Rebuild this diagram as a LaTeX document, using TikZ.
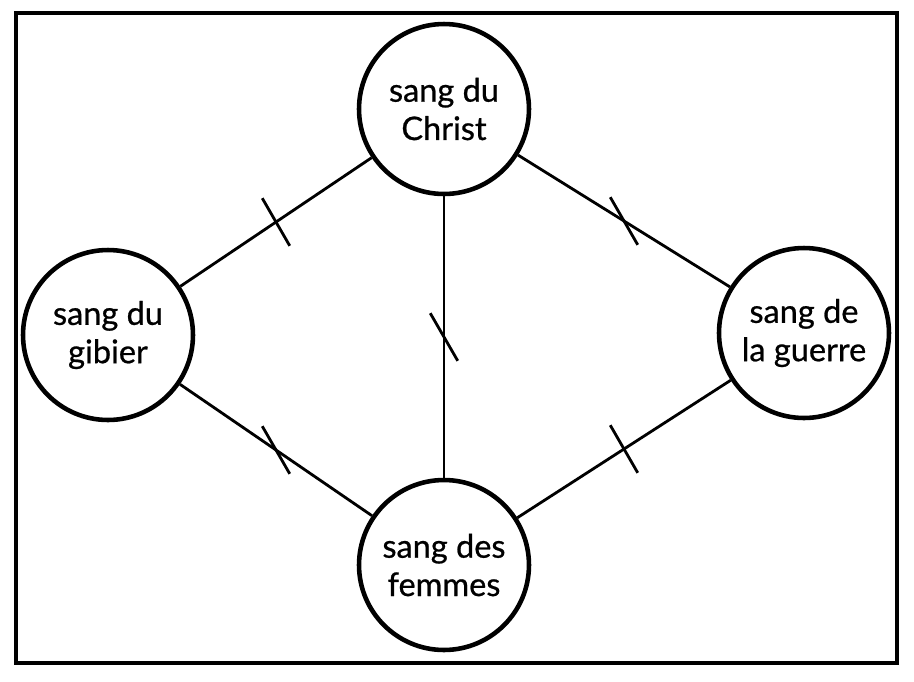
\documentclass[tikz,border=0pt]{standalone}
\usepackage{fontspec}
\setmainfont{Lato}[FakeBold=0.7]
\usepackage{tikz}
\usetikzlibrary{positioning}
\tikzset{
  blood/.style={
    draw,
    circle,
    line width=2.6pt,
    fill=white,
    align=center,
    inner sep=0pt,
    minimum size=3.4cm,
    font=\fontsize{18.5}{21.8}\selectfont
  },
  link/.style={line width=1.6pt},
  tickmark/.style={draw, line width=1.6pt, inner sep=0pt,
    minimum width=0pt, minimum height=1.1cm, rotate=30},
  frame/.style={line width=1.8pt}
}
\begin{document}
\begin{tikzpicture}[x=0.02cm, y=-0.02cm]
    \useasboundingbox (0,0) rectangle (914,681);
    \draw[frame] (16,13) rectangle (897,663);

    \node[blood] (christ) at (444,109) {sang du\\Christ};
    \node[blood] (gibier) at (108,335) {sang du\\gibier};
    \node[blood] (guerre) at (804,333) {sang de\\la guerre};
    \node[blood] (femmes) at (444,565) {sang des\\femmes};

    \draw[link] (gibier) -- node[tickmark] {} (christ);
    \draw[link] (christ) -- node[tickmark] {} (guerre);
    \draw[link] (christ) -- node[tickmark] {} (femmes);
    \draw[link] (gibier) -- node[tickmark] {} (femmes);
    \draw[link] (femmes) -- node[tickmark] {} (guerre);
\end{tikzpicture}
\end{document}
